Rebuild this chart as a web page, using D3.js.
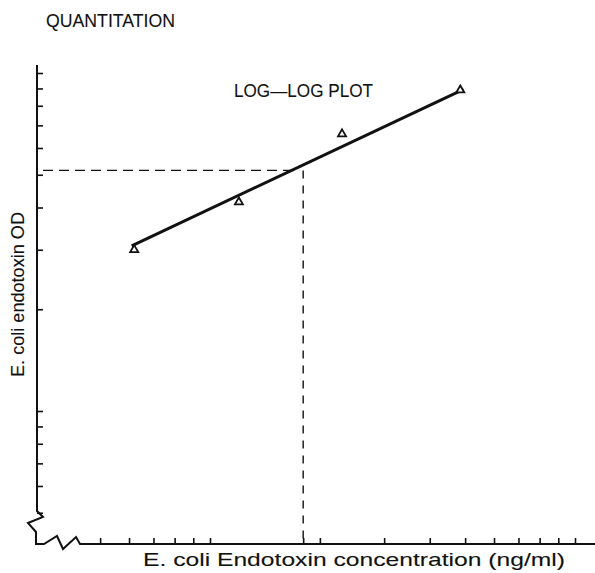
<!DOCTYPE html>
<html lang="en">
<head>
  <meta charset="UTF-8">
  <title>Quantitation - log-log plot</title>
  <script src="https://d3js.org/d3.v7.min.js"></script>
  <style>
    body { margin: 0; background: #fff; }
    text { font-family: "Liberation Sans Narrow", "Liberation Sans", Arial, sans-serif; fill: #111; stroke: #111; stroke-width: 0.1; }
  </style>
</head>
<body>
  <div id="chart"></div>

  <script>
    // E. coli endotoxin standard points (ng/ml vs OD)
    const concentration = [6.2, 12, 23, 48.5];
    const od = [3.0, 4.15, 6.6, 8.9];

    // fitted line ends
    const fitConc = [6.1, 49.5];
    const fitOd = [3.08, 8.95];

    // unknown sample read-off (dashed lines)
    const unknownConc = 18;
    const unknownOd = 5.15;

    // log tick marks on both axes (no labels in the original)
    const xTicks = [5, 6, 7, 8, 9, 10, 18, 20, 30, 40, 50, 60, 70, 80, 90, 100];
    const yTicks = [0.5, 0.6, 0.7, 0.8, 0.9, 1, 2, 3, 4, 5, 6, 7, 8, 9, 10];

    const width = 595;
    const height = 573;
    const x0 = 37;       // y axis position
    const yBase = 544;   // x axis position

    const x = d3.scaleLog().domain([10, 100]).range([210, 575]);
    const y = d3.scaleLog().domain([1, 10]).range([411, 73]);

    const svg = d3.select("#chart")
      .append("svg")
      .attr("width", width)
      .attr("height", height);

    svg.append("rect")
      .attr("width", width)
      .attr("height", height)
      .attr("fill", "#fff");

    // axis lines with the break zigzags
    const axisPath = d3.path();
    axisPath.moveTo(x0, 65);
    axisPath.lineTo(x0, 511);
    axisPath.lineTo(x0 + 6, 517);
    axisPath.lineTo(x0 - 9, 523);
    axisPath.lineTo(x0 - 1, 532);
    axisPath.lineTo(x0 - 1, yBase);
    axisPath.lineTo(x0 + 7, yBase);
    axisPath.lineTo(x0 + 20, yBase - 8);
    axisPath.lineTo(x0 + 26, yBase + 5);
    axisPath.lineTo(x0 + 39, yBase - 7);
    axisPath.lineTo(x0 + 43, yBase);
    axisPath.lineTo(width, yBase);

    svg.append("path")
      .attr("d", axisPath.toString())
      .attr("fill", "none")
      .attr("stroke", "#111")
      .attr("stroke-width", 2)
      .attr("stroke-linejoin", "miter");

    // Add x-axis ticks (pointing up into the plot)
    const xAxis = svg.append("g")
      .attr("transform", "translate(0," + yBase + ")")
      .call(d3.axisBottom(x).tickValues(xTicks).tickSize(-6).tickFormat(""));
    xAxis.select(".domain").remove();
    xAxis.selectAll("line").attr("stroke", "#111").attr("stroke-width", 1.6);

    // Add y-axis ticks (pointing right)
    const yAxis = svg.append("g")
      .attr("transform", "translate(" + x0 + ",0)")
      .call(d3.axisLeft(y).tickValues(yTicks).tickSize(-6).tickFormat(""));
    yAxis.select(".domain").remove();
    yAxis.selectAll("line").attr("stroke", "#111").attr("stroke-width", 1.6);

    // dashed read-off lines
    svg.append("line")
      .attr("x1", x0 + 6)
      .attr("x2", x(unknownConc) - 4)
      .attr("y1", y(unknownOd))
      .attr("y2", y(unknownOd))
      .attr("stroke", "#111")
      .attr("stroke-width", 1.4)
      .attr("stroke-dasharray", "10,6");

    svg.append("line")
      .attr("x1", x(unknownConc))
      .attr("x2", x(unknownConc))
      .attr("y1", y(unknownOd))
      .attr("y2", yBase)
      .attr("stroke", "#111")
      .attr("stroke-width", 1.4)
      .attr("stroke-dasharray", "8,7");

    // fitted line
    const fit = fitConc.map((c, i) => ({ c: c, v: fitOd[i] }));
    svg.append("path")
      .datum(fit)
      .attr("d", d3.line().x(d => x(d.c)).y(d => y(d.v)))
      .attr("fill", "none")
      .attr("stroke", "#111")
      .attr("stroke-width", 3);

    // triangles
    const points = concentration.map((c, i) => ({ c: c, v: od[i] }));
    svg.selectAll(".pt")
      .data(points)
      .enter().append("path")
      .attr("class", "pt")
      .attr("transform", d => "translate(" + x(d.c) + "," + y(d.v) + ")")
      .attr("d", d3.symbol().type(d3.symbolTriangle).size(28))
      .attr("fill", "#fff")
      .attr("stroke", "#111")
      .attr("stroke-width", 1.8);

    // texts
    svg.append("text")
      .attr("x", 46)
      .attr("y", 27)
      .attr("font-size", 19)
      .attr("textLength", 129)
      .attr("lengthAdjust", "spacingAndGlyphs")
      .text("QUANTITATION");

    svg.append("text")
      .attr("x", 234)
      .attr("y", 97)
      .attr("font-size", 19)
      .attr("textLength", 139)
      .attr("lengthAdjust", "spacingAndGlyphs")
      .text("LOG\u2014LOG PLOT");

    svg.append("text")
      .attr("x", 143)
      .attr("y", 566)
      .attr("font-size", 19)
      .attr("textLength", 422)
      .attr("lengthAdjust", "spacingAndGlyphs")
      .text("E. coli Endotoxin concentration (ng/ml)");

    svg.append("text")
      .attr("transform", "translate(24,377) rotate(-90)")
      .attr("font-size", 19)
      .attr("textLength", 165)
      .attr("lengthAdjust", "spacingAndGlyphs")
      .text("E. coli endotoxin OD");
  </script>
</body>
</html>
